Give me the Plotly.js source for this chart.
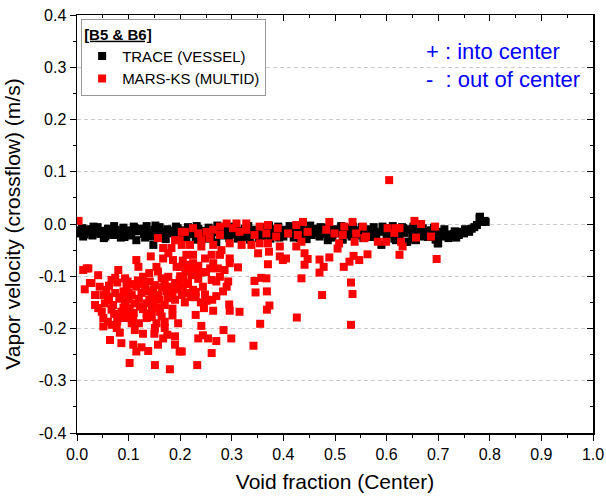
<!DOCTYPE html>
<html>
<head>
<meta charset="utf-8">
<script src="https://cdn.plot.ly/plotly-3.0.1.min.js"></script>
<style>html,body{margin:0;padding:0;background:#fff;}#chart{width:606px;height:501px;}</style>
</head>
<body>
<div id="chart"></div>
<script>
// TRACE (VESSEL) - black squares
const traceX = [0.00,0.005,0.01,0.015,0.02,0.025,0.03,0.035,0.04,0.045,0.05,0.055,0.06,0.065,0.07,0.075,0.08,0.085,0.09,0.095,0.10,0.105,0.11,0.115,0.12,0.125,0.13,0.135,0.14,0.145,0.148,0.15,0.155,0.16,0.165,0.17,0.175,0.18,0.185,0.19,0.195,0.20,0.205,0.21,0.215,0.22,0.225,0.23,0.235,0.24,0.245,0.25,0.255,0.26,0.265,0.27,0.275,0.28,0.285,0.29,0.295,0.30,0.305,0.31,0.315,0.32,0.325,0.33,0.335,0.34,0.345,0.35,0.355,0.36,0.365,0.37,0.375,0.38,0.385,0.39,0.395,0.40,0.405,0.41,0.415,0.42,0.425,0.43,0.435,0.44,0.445,0.45,0.455,0.46,0.465,0.47,0.475,0.48,0.485,0.486,0.49,0.495,0.50,0.505,0.51,0.515,0.52,0.525,0.53,0.535,0.54,0.545,0.55,0.555,0.56,0.565,0.57,0.575,0.58,0.585,0.59,0.595,0.60,0.605,0.61,0.615,0.618,0.62,0.625,0.63,0.635,0.638,0.64,0.645,0.65,0.655,0.657,0.66,0.665,0.67,0.675,0.68,0.685,0.69,0.695,0.699,0.70,0.705,0.708,0.71,0.715,0.72,0.725,0.73,0.735,0.74,0.744,0.745,0.75,0.755,0.76,0.765,0.77,0.775,0.78,0.781,0.785,0.79,0.792,
0.012,0.032,0.052,0.072,0.092,0.112,0.132,0.152,0.172,0.192,0.212,0.232,0.252,0.272,0.292,0.312,0.332,0.352,0.372,0.392,0.412,0.432,0.452,0.472,0.492,0.512,0.532,0.552,0.572,0.592,0.612,0.632,0.652,0.672,0.692,0.712,0.732,0.752];
const traceY = [-0.012,-0.018,-0.008,-0.020,-0.014,-0.010,-0.022,-0.016,-0.006,-0.019,-0.013,-0.024,-0.009,-0.017,-0.021,-0.011,-0.015,-0.026,-0.007,-0.018,-0.012,-0.022,-0.005,-0.031,-0.014,-0.009,-0.019,-0.004,-0.016,-0.024,-0.040,-0.011,-0.020,-0.006,-0.015,-0.027,-0.010,-0.018,-0.013,-0.023,-0.008,-0.017,-0.012,-0.025,-0.006,-0.019,-0.014,-0.030,-0.009,-0.021,-0.013,-0.018,-0.007,-0.024,-0.011,-0.035,-0.016,-0.008,-0.022,-0.012,-0.027,-0.015,-0.005,-0.020,-0.013,-0.025,-0.009,-0.018,-0.030,-0.011,-0.021,-0.014,-0.006,-0.023,-0.012,-0.017,-0.028,-0.010,-0.020,-0.005,-0.015,-0.024,-0.011,-0.018,-0.008,-0.026,-0.014,-0.020,-0.006,-0.017,-0.029,-0.012,-0.021,-0.009,-0.016,-0.024,-0.011,-0.019,-0.007,-0.031,-0.015,-0.025,-0.010,-0.018,-0.013,-0.030,-0.008,-0.020,-0.014,-0.005,-0.022,-0.012,-0.017,-0.027,-0.010,-0.019,-0.013,-0.006,-0.023,-0.015,-0.040,-0.011,-0.020,-0.008,-0.016,-0.028,-0.031,-0.012,-0.022,-0.006,-0.017,-0.034,-0.034,-0.010,-0.019,-0.030,-0.031,-0.013,-0.022,-0.008,-0.016,-0.025,-0.012,-0.019,-0.030,-0.037,-0.037,-0.015,-0.021,-0.024,-0.020,-0.027,-0.023,-0.019,-0.026,-0.021,-0.015,-0.016,-0.018,-0.013,-0.015,-0.009,-0.006,-0.002,0.012,0.014,0.004,0.006,0.004,
-0.024,-0.005,-0.027,-0.004,-0.025,-0.008,-0.026,-0.003,-0.029,-0.005,-0.027,-0.004,-0.028,-0.003,-0.006,-0.028,-0.004,-0.027,-0.003,-0.026,-0.004,-0.027,-0.003,-0.006,-0.026,-0.004,-0.024,-0.006,-0.025,-0.005,-0.004,-0.008,-0.005,-0.024,-0.007,-0.010,-0.014,-0.010];

// MARS-KS (MULTID) - red squares
const marsX = [0.003,0.157,0.190,0.199,0.115,0.119,0.143,0.167,0.177,0.186,0.193,0.154,0.157,0.019,0.012,0.080,0.041,0.025,0.015,0.067,0.074,0.093,0.096,0.115,0.128,0.141,0.151,0.164,0.177,0.190,0.199,0.044,0.057,0.035,0.051,0.074,0.090,0.106,0.125,0.138,0.157,0.173,0.190,0.203,0.035,0.054,0.070,0.093,0.112,0.135,0.148,0.170,0.041,0.067,0.086,0.102,0.122,0.161,0.080,0.093,0.109,0.135,0.135,0.164,0.051,0.106,0.154,0.170,0.051,0.067,0.077,0.112,0.151,0.170,0.196,0.064,0.086,0.109,0.167,0.157,0.190,0.190,0.115,0.125,0.138,0.199,0.102,0.151,0.180,0.167,0.183,0.203,0.180,0.185,0.160,0.195,0.170,0.145,0.130,0.105,0.085,0.060,0.100,0.022,0.028,
0.233,0.261,0.203,0.342,0.299,0.270,0.254,0.235,0.244,0.284,0.355,0.241,0.230,0.264,0.296,0.315,0.295,0.246,0.251,0.209,0.368,0.373,0.270,0.283,0.290,0.293,0.346,0.368,0.344,0.357,0.367,0.244,0.225,0.212,0.261,0.277,0.270,0.215,0.206,0.222,0.312,0.296,0.286,0.273,0.264,0.248,0.261,0.277,0.296,0.225,0.212,0.225,0.212,0.219,0.203,0.241,0.264,0.280,0.296,0.257,0.277,0.264,0.277,0.290,0.302,0.315,0.309,0.328,0.328,0.344,0.319,0.338,0.351,0.372,0.354,0.370,0.370,0.354,0.367,0.389,0.386,0.393,0.393,0.370,0.399,0.225,0.209,0.241,0.235,0.251,0.205,0.210,0.215,0.220,0.230,0.235,0.225,0.205,0.200,0.235,0.240,
0.426,0.531,0.475,0.534,0.531,0.435,0.470,0.478,0.470,0.441,0.447,0.441,0.489,0.517,0.528,0.536,0.547,0.563,0.505,0.508,0.425,0.435,0.405,0.538,0.557,0.583,0.599,0.602,0.554,0.518,0.534,0.489,0.483,0.447,0.438,0.425,0.409,0.428,0.499,0.515,0.541,0.560,
0.605,0.654,0.667,0.694,0.686,0.657,0.631,0.625,0.697,0.618,0.615,0.628,0.625,
0.062,0.078,0.098,0.118,0.132,0.148,0.165,0.182,0.062,0.082,0.100,0.120,0.140,0.158,0.176,0.048,0.072,0.090,0.110,0.128,0.145,0.185,0.060,0.078,0.096,0.120,0.145,0.185,0.083,0.128,0.150,0.175,0.140,0.200,0.215,0.228,0.240,0.250,0.258,0.230,0.248,0.262];
const marsY = [0.006,-0.027,-0.031,-0.031,-0.069,-0.082,-0.062,-0.066,-0.056,-0.069,-0.082,-0.082,-0.091,-0.085,-0.088,-0.088,-0.098,-0.113,-0.125,-0.107,-0.103,-0.104,-0.117,-0.120,-0.101,-0.110,-0.117,-0.104,-0.101,-0.113,-0.107,-0.120,-0.126,-0.136,-0.136,-0.132,-0.129,-0.136,-0.132,-0.129,-0.136,-0.129,-0.145,-0.136,-0.155,-0.152,-0.155,-0.149,-0.152,-0.152,-0.152,-0.155,-0.161,-0.164,-0.168,-0.161,-0.158,-0.168,-0.177,-0.180,-0.180,-0.171,-0.180,-0.177,-0.180,-0.190,-0.190,-0.187,-0.196,-0.193,-0.199,-0.203,-0.199,-0.199,-0.190,-0.222,-0.228,-0.231,-0.219,-0.231,-0.215,-0.231,-0.244,-0.236,-0.243,-0.244,-0.266,-0.270,-0.278,-0.046,-0.046,-0.015,-0.120,-0.140,-0.145,-0.125,-0.115,-0.140,-0.115,-0.115,-0.140,-0.145,-0.145,-0.085,-0.113,
-0.270,-0.247,-0.244,-0.233,-0.219,-0.224,-0.219,-0.219,-0.213,-0.203,-0.191,-0.195,-0.174,-0.166,-0.166,-0.168,-0.154,-0.161,-0.147,-0.150,-0.164,-0.156,-0.138,-0.129,-0.120,-0.110,-0.131,-0.129,-0.109,-0.103,-0.104,-0.120,-0.126,-0.132,-0.107,-0.101,-0.110,-0.113,-0.104,-0.098,-0.083,-0.075,-0.088,-0.085,-0.075,-0.066,-0.059,-0.059,-0.066,-0.075,-0.078,-0.059,-0.059,-0.040,-0.040,-0.043,-0.040,-0.050,-0.037,-0.027,-0.021,-0.011,-0.005,0.001,-0.008,-0.015,0.001,0.001,-0.011,-0.021,-0.040,-0.040,-0.056,-0.053,-0.037,-0.037,-0.002,-0.005,-0.018,-0.008,-0.024,-0.043,-0.062,-0.077,-0.069,-0.008,-0.015,-0.031,-0.018,-0.015,-0.070,-0.090,-0.115,-0.140,-0.130,-0.105,-0.090,-0.120,-0.100,-0.080,-0.150,
-0.179,-0.193,-0.136,-0.134,-0.112,-0.104,-0.093,-0.082,-0.068,-0.078,-0.067,-0.056,-0.064,-0.082,-0.072,-0.061,-0.069,-0.058,-0.047,-0.037,-0.043,-0.034,-0.066,-0.034,-0.027,-0.034,-0.034,-0.008,-0.005,-0.005,0.004,0.004,-0.011,-0.015,0.004,-0.002,-0.018,-0.021,-0.018,-0.021,-0.018,-0.024,
0.084,0.006,0.000,-0.005,-0.024,-0.026,-0.043,-0.059,-0.067,-0.008,-0.017,-0.034,-0.008,
-0.118,-0.112,-0.110,-0.108,-0.122,-0.126,-0.121,-0.130,-0.140,-0.143,-0.131,-0.143,-0.145,-0.160,-0.142,-0.168,-0.172,-0.160,-0.170,-0.163,-0.165,-0.162,-0.187,-0.186,-0.175,-0.190,-0.178,-0.175,-0.208,-0.210,-0.210,-0.212,-0.094,-0.082,-0.082,-0.088,-0.093,-0.092,-0.085,-0.140,-0.135,-0.145];

const seriesNames = ['TRACE (VESSEL)', 'MARS-KS (MULTID)'];
const xTicks = [0.0,0.1,0.2,0.3,0.4,0.5,0.6,0.7,0.8,0.9,1.0];
const yTicks = [-0.4,-0.3,-0.2,-0.1,0.0,0.1,0.2,0.3,0.4];

const FONT = 'Arial, "Liberation Sans", sans-serif';

const data = [
  {type:'scatter', mode:'markers', name:seriesNames[0], x:traceX, y:traceY,
   marker:{symbol:'square', size:8, color:'#000000'}},
  {type:'scatter', mode:'markers', name:seriesNames[1], x:marsX, y:marsY,
   marker:{symbol:'square', size:8, color:'#ff0000'}},
  {type:'scatter', mode:'markers', x:[], y:[], xaxis:'x2', yaxis:'y2', showlegend:false, hoverinfo:'skip'}
];

const layout = {
  width:606, height:501,
  margin:{l:77, r:13, t:15, b:68},
  paper_bgcolor:'#ffffff', plot_bgcolor:'#ffffff',
  font:{family:FONT, color:'#000'},
  showlegend:true,
  xaxis:{range:[0,1], tickvals:xTicks, ticktext:xTicks.map(v=>v.toFixed(1)),
    ticks:'outside', ticklen:6, tickwidth:1, tickcolor:'#000',
    minor:{tickvals:[0.05,0.15,0.25,0.35,0.45,0.55,0.65,0.75,0.85,0.95], ticks:'outside', ticklen:3, tickcolor:'#000', showgrid:false},
    showline:true, linecolor:'#000', linewidth:1.5, showgrid:false, zeroline:false,
    tickfont:{size:16, family:FONT},
    title:{text:'Void fraction (Center)', font:{size:21, family:FONT}, standoff:12}},
  yaxis:{range:[-0.4,0.4], tickvals:yTicks, ticktext:yTicks.map(v=>v.toFixed(1)),
    ticks:'outside', ticklen:6, tickwidth:1, tickcolor:'#000',
    minor:{tickvals:[-0.35,-0.25,-0.15,-0.05,0.05,0.15,0.25,0.35], ticks:'outside', ticklen:3, tickcolor:'#000', showgrid:false},
    showline:true, linecolor:'#000', linewidth:1.5,
    showgrid:true, gridcolor:'#cccccc', gridwidth:1, griddash:'4px,3px', zeroline:false,
    tickfont:{size:16, family:FONT},
    title:{text:'Vapor velocity (crossflow) (m/s)', font:{size:21, family:FONT}, standoff:12}},
  xaxis2:{overlaying:'x', side:'top', range:[0,1], tickvals:xTicks, showticklabels:false,
    ticks:'inside', ticklen:6, tickcolor:'#000',
    minor:{tickvals:[0.05,0.15,0.25,0.35,0.45,0.55,0.65,0.75,0.85,0.95], ticks:'inside', ticklen:3, tickcolor:'#000'},
    showline:true, linecolor:'#000', linewidth:1.5, showgrid:false, zeroline:false},
  yaxis2:{overlaying:'y', side:'right', range:[-0.4,0.4], tickvals:yTicks, showticklabels:false,
    ticks:'inside', ticklen:6, tickcolor:'#000',
    minor:{tickvals:[-0.35,-0.25,-0.15,-0.05,0.05,0.15,0.25,0.35], ticks:'inside', ticklen:3, tickcolor:'#000'},
    showline:true, linecolor:'#000', linewidth:1.5, showgrid:false, zeroline:false},
  legend:{x:0.008, y:0.99, xanchor:'left', yanchor:'top',
    bgcolor:'#ffffff', bordercolor:'#999999', borderwidth:1,
    font:{size:15, family:FONT, color:'#000'},
    title:{text:'<b><span style="text-decoration:underline">[B5 &amp; B6]</span></b>', side:'top', font:{size:15, family:FONT}},
    tracegroupgap:0, itemwidth:30},
  annotations:[
    {xref:'paper', yref:'paper', x:0.673, y:0.912, xanchor:'left', yanchor:'middle', showarrow:false,
     text:'+ : into center', font:{size:22, family:FONT, color:'#0000ff'}},
    {xref:'paper', yref:'paper', x:0.673, y:0.845, xanchor:'left', yanchor:'middle', showarrow:false,
     text:'-  : out of center', font:{size:22, family:FONT, color:'#0000ff'}}
  ]
};

Plotly.newPlot('chart', data, layout, {displayModeBar:false, staticPlot:true});
</script>
</body>
</html>
